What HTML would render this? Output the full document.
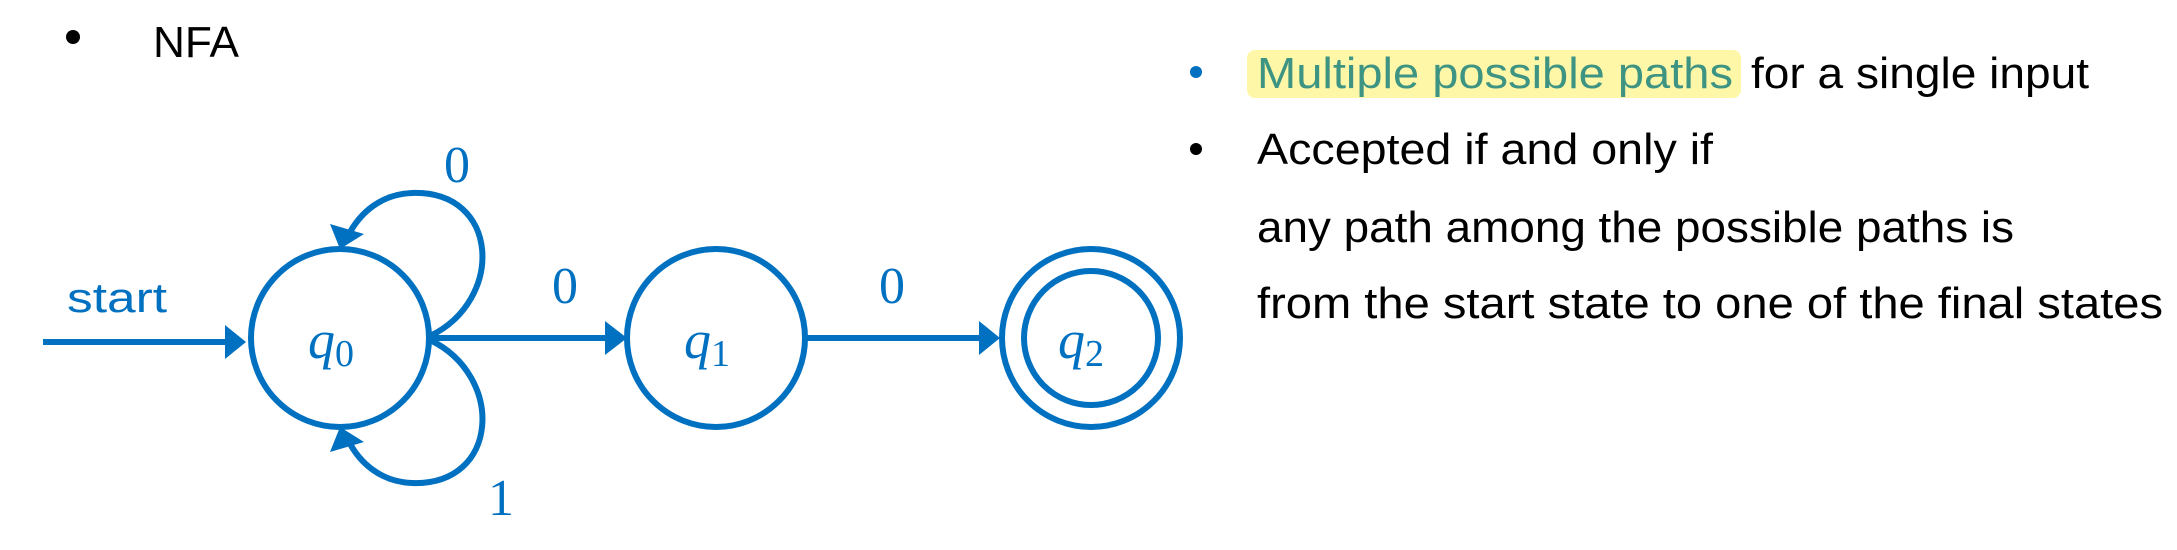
<!DOCTYPE html>
<html><head><meta charset="utf-8"><style>
html,body{margin:0;padding:0;background:#fff;width:2177px;height:550px;overflow:hidden}
svg{display:block}
.b{fill:#0070C0;font-family:"Liberation Serif",serif}
.t{font-family:"Liberation Sans",sans-serif;font-size:44px;fill:#000}
</style></head><body>
<svg width="2177" height="550" viewBox="0 0 2177 550">
<circle cx="73" cy="37" r="7" fill="#000"/>
<text x="153" y="57" class="t" font-size="48" textLength="86" lengthAdjust="spacingAndGlyphs">NFA</text>

<g>
<line x1="43" y1="342" x2="228" y2="342" stroke="#0070C0" stroke-width="6"/>
<polygon points="246,342 225,325 225,359" fill="#0070C0"/>
</g>
<text x="67" y="312" font-family="Liberation Sans,sans-serif" font-size="42" fill="#0070C0" textLength="100" lengthAdjust="spacingAndGlyphs">start</text>

<g fill="none" stroke="#0070C0" stroke-width="6">
<circle cx="340" cy="338" r="89"/>
<circle cx="716" cy="338" r="89"/>
<circle cx="1091" cy="338" r="89"/>
<circle cx="1091" cy="338" r="67"/>
<path d="M430 336 C505 300,500 190,412 193 C382 194,360 212,348 236"/>
<path d="M430 340 C505 376,500 486,412 483 C382 482,360 464,348 440"/>
<line x1="430" y1="338" x2="608" y2="338"/>
<line x1="805" y1="338" x2="983" y2="338"/>
</g>
<g fill="#0070C0">
<polygon points="340,249 330,224 364,234"/>
<polygon points="340,427 330,452 364,442"/>
<polygon points="627,338 605,321 605,355"/>
<polygon points="1000,338 979,321 979,355"/>
</g>

<text x="444" y="182" class="b" font-size="52">0</text>
<text x="552" y="303" class="b" font-size="52">0</text>
<text x="879" y="303" class="b" font-size="52">0</text>
<text x="488" y="515" class="b" font-size="52">1</text>

<text x="308" y="358" class="b" font-size="54" font-style="italic">q<tspan font-size="38" font-style="normal" dy="8">0</tspan></text>
<text x="684" y="358" class="b" font-size="54" font-style="italic">q<tspan font-size="38" font-style="normal" dy="8">1</tspan></text>
<text x="1058" y="358" class="b" font-size="54" font-style="italic">q<tspan font-size="38" font-style="normal" dy="8">2</tspan></text>

<circle cx="1196" cy="72" r="6" fill="#0070C0"/>
<rect x="1247" y="50" width="494" height="48" rx="8" fill="#FFF7A8"/>
<text x="1257" y="88" class="t" fill="#3E9483" style="fill:#3E9483" textLength="476" lengthAdjust="spacingAndGlyphs">Multiple possible paths</text>
<text x="1751" y="88" class="t" textLength="338" lengthAdjust="spacingAndGlyphs">for a single input</text>
<circle cx="1196" cy="149" r="6" fill="#000"/>
<text x="1257" y="164" class="t" textLength="456" lengthAdjust="spacingAndGlyphs">Accepted if and only if</text>
<text x="1257" y="242" class="t" textLength="757" lengthAdjust="spacingAndGlyphs">any path among the possible paths is</text>
<text x="1257" y="318" class="t" textLength="906" lengthAdjust="spacingAndGlyphs">from the start state to one of the final states</text>
</svg>
</body></html>
